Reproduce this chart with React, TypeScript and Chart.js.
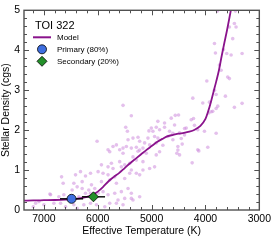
import React, { useEffect, useRef } from 'react';
import { Chart, registerables } from 'chart.js';

Chart.register(...registerables);

// ---------- data ----------
const xMin = 3000;
const xMax = 7370;
const yMin = 0;
const yMax = 5;
const xTickValues = [7000, 6000, 5000, 4000, 3000];
const yTickValues = [0, 1, 2, 3, 4, 5];
const xMinorStep = 200;
const yMinorStep = 0.2;

const xTitle = 'Effective Temperature (K)';
const yTitle = 'Stellar Density (cgs)';
const legendTitle = 'TOI 322';
const legendLabels = ['Model', 'Primary (80%)', 'Secondary (20%)'];

const modelTemp = [7370, 7200, 7000, 6800, 6600, 6400, 6200, 6100, 6000, 5900, 5800, 5700, 5600, 5500, 5400, 5300, 5200, 5100, 5000, 4900, 4800, 4700, 4600, 4500, 4400, 4300, 4200, 4100, 4000, 3950, 3900, 3850, 3800, 3750, 3700, 3650, 3600, 3550, 3500];
const modelRho = [0.235, 0.24, 0.245, 0.25, 0.26, 0.28, 0.33, 0.38, 0.46, 0.58, 0.72, 0.83, 0.93, 1.05, 1.17, 1.28, 1.39, 1.5, 1.6, 1.7, 1.78, 1.85, 1.88, 1.91, 1.93, 1.96, 2.01, 2.1, 2.28, 2.47, 2.7, 2.96, 3.22, 3.5, 3.85, 4.18, 4.5, 4.85, 5.2];

const sampleTemp = [
  6876, 6672, 6643, 6413, 6321, 6228, 6135, 6290, 6444, 6383, 6476, 6290, 6167, 6228, 6630, 6722, 6352, 6135, 6691, 6444, 6259, 6135, 7093, 7154, 7000, 6815, 6598, 6383, 7198, 6889,
  5778, 5531, 5222, 5346, 5099, 4914, 4852, 5932, 5809, 5717, 5747, 5593, 5562, 5500, 5407, 5284, 5161, 5994, 5902, 5809, 5685, 5932, 5778, 5654, 5500, 5407, 5284, 5377, 5161, 5037, 5222, 6117, 6056, 5994, 5902, 5809, 5685, 5562, 5438, 5377, 5500, 5624, 5778, 5654, 5531, 5346, 5222, 6024, 5870, 5377,
  5531, 5377, 5481, 5450, 6013, 5346, 5253, 5222, 5130, 5050, 5006, 4976, 4914, 4884, 4852, 4945, 5068, 5438, 5717, 5654, 5531, 5469, 5377, 5284, 5161, 5037, 5809, 5593, 5253,
  4235, 4050, 3926, 3865, 4760, 4636, 4561, 4500, 4265, 4204, 4358, 4574, 4760, 4667, 4481, 4143, 4019, 4389, 4698, 4884, 4914, 4605, 4791, 4512, 4143, 3957,
  4389, 3802, 4605, 4450, 4432, 4512, 4531, 4124, 4247, 4945, 4481,
  3833, 3815, 3667, 3605, 3524, 3320, 3494, 3556, 3463, 3432, 3741, 3710, 3587, 3556, 3975, 3833, 3802, 3630, 3895, 3802, 3772, 3463, 3320, 3939, 4222, 3778, 3444,
];
const sampleRho = [
  0.38, 0.83, 0.67, 0.88, 0.96, 0.85, 0.92, 0.71, 0.67, 0.58, 0.5, 0.54, 0.5, 0.42, 0.38, 0.33, 0.33, 0.42, 0.17, 0.13, 0.13, 0.17, 0.21, 0.17, 0.13, 0.17, 0.08, 0.04, 0.08, 0.4,
  1.46, 1.42, 1.5, 1.33, 1.42, 1.38, 1.46, 1.13, 1.08, 1.04, 1.17, 1.21, 1.08, 1.13, 1.17, 1.25, 1.21, 0.96, 0.92, 0.88, 0.83, 0.71, 0.75, 0.67, 0.79, 0.92, 0.92, 1.0, 1.0, 1.04, 0.88, 0.63, 0.54, 0.42, 0.46, 0.38, 0.42, 0.46, 0.54, 0.42, 0.29, 0.25, 0.17, 0.17, 0.13, 0.25, 0.33, 0.13, 0.08, 0.29,
  2.62, 2.36, 2.07, 1.97, 1.72, 1.8, 1.82, 1.72, 1.68, 1.98, 2.05, 1.97, 2.07, 2.22, 2.01, 1.84, 1.8, 1.76, 1.59, 1.63, 1.55, 1.59, 1.55, 1.57, 1.55, 1.63, 1.51, 1.51, 1.47,
  2.8, 2.68, 2.7, 2.47, 2.18, 2.3, 2.37, 2.38, 2.26, 2.12, 2.05, 2.13, 2.07, 1.97, 1.93, 2.01, 1.97, 1.88, 1.84, 1.8, 1.68, 1.76, 1.62, 1.59, 1.51, 1.57,
  2.04, 1.92, 1.92, 1.79, 1.65, 1.5, 1.42, 1.48, 1.18, 1.08, 1.38,
  4.17, 3.93, 4.02, 3.92, 3.88, 3.92, 4.29, 4.58, 4.67, 4.58, 3.63, 3.5, 3.33, 3.29, 3.23, 3.0, 2.89, 2.85, 2.46, 2.54, 2.6, 2.57, 2.67, 2.43, 2.29, 4.98, 4.98,
];

const primaryTemp = [6487];
const primaryRho = [0.28];
const primaryTempErr = [215];
const secondaryTemp = [6080];
const secondaryRho = [0.33];
const secondaryTempErr = [215];

// ---------- styles ----------
const FONT = '"Liberation Sans", Arial, Helvetica, sans-serif';
const frameColor = '#505050';
const modelColor = '#8a138c';
const sampleColor = 'rgba(205, 140, 220, 0.55)';
const primaryColor = '#3f6fe0';
const secondaryColor = '#23902a';

const isIn = (v: number, list: number[]) => list.some((m) => Math.abs(m - v) < 1e-6);

const stepValues = (scale: any, step: number) => {
  const out: number[] = [];
  const lo = Math.min(scale.min, scale.max);
  const hi = Math.max(scale.min, scale.max);
  for (let k = Math.ceil(lo / step - 1e-9); k * step <= hi + 1e-9; k++) out.push(k * step);
  return out;
};

const framePlugin = {
  id: 'frameTicks',
  afterDraw(chart: any) {
    const { ctx, chartArea: a, scales } = chart;
    const x = scales.x;
    const y = scales.y;
    ctx.save();
    ctx.strokeStyle = frameColor;
    ctx.lineWidth = 1;
    ctx.beginPath();
    stepValues(x, xMinorStep).forEach((v) => {
      const px = Math.round(x.getPixelForValue(v)) + 0.5;
      if (px < a.left + 1 || px > a.right - 1) return;
      const len = isIn(v, xTickValues) ? 5 : 3;
      ctx.moveTo(px, a.bottom);
      ctx.lineTo(px, a.bottom - len);
      ctx.moveTo(px, a.top);
      ctx.lineTo(px, a.top + len);
    });
    stepValues(y, yMinorStep).forEach((v) => {
      const py = Math.round(y.getPixelForValue(v)) + 0.5;
      if (py < a.top + 1 || py > a.bottom - 1) return;
      const len = isIn(v, yTickValues) ? 5 : 3;
      ctx.moveTo(a.left, py);
      ctx.lineTo(a.left + len, py);
      ctx.moveTo(a.right, py);
      ctx.lineTo(a.right - len, py);
    });
    ctx.stroke();
    ctx.lineWidth = 1.4;
    ctx.strokeRect(a.left, a.top, a.right - a.left, a.bottom - a.top);
    ctx.restore();

    // legend
    const lx = a.left + 11;
    const ly = a.top + 16;
    ctx.save();
    ctx.fillStyle = '#000';
    ctx.textBaseline = 'middle';
    ctx.textAlign = 'left';
    ctx.font = `11px ${FONT}`;
    ctx.fillText(legendTitle, lx, ly);
    ctx.font = `8px ${FONT}`;
    const rowY = [ly + 11, ly + 23, ly + 35];
    const textX = lx + 22;
    ctx.strokeStyle = modelColor;
    ctx.lineWidth = 2;
    ctx.beginPath();
    ctx.moveTo(lx - 2, rowY[0]);
    ctx.lineTo(lx + 16, rowY[0]);
    ctx.stroke();
    ctx.fillStyle = primaryColor;
    ctx.strokeStyle = '#000';
    ctx.lineWidth = 0.8;
    ctx.beginPath();
    ctx.arc(lx + 7, rowY[1], 4.5, 0, Math.PI * 2);
    ctx.fill();
    ctx.stroke();
    ctx.fillStyle = secondaryColor;
    ctx.beginPath();
    ctx.moveTo(lx + 7, rowY[2] - 5);
    ctx.lineTo(lx + 12, rowY[2]);
    ctx.lineTo(lx + 7, rowY[2] + 5);
    ctx.lineTo(lx + 2, rowY[2]);
    ctx.closePath();
    ctx.fill();
    ctx.stroke();
    ctx.fillStyle = '#000';
    legendLabels.forEach((label, i) => ctx.fillText(label, textX, rowY[i]));
    ctx.restore();
  },
};

const errorBarPlugin = {
  id: 'errorBars',
  afterDatasetDraw(chart: any, args: any) {
    if (args.index !== 1) return;
    const { ctx, scales } = chart;
    const x = scales.x;
    const y = scales.y;
    ctx.save();
    ctx.strokeStyle = '#000';
    ctx.lineWidth = 1.4;
    const draw = (ts: number[], rs: number[], es: number[]) => {
      ts.forEach((t, i) => {
        const py = y.getPixelForValue(rs[i]);
        ctx.beginPath();
        ctx.moveTo(x.getPixelForValue(t - es[i]), py);
        ctx.lineTo(x.getPixelForValue(t + es[i]), py);
        ctx.stroke();
      });
    };
    draw(primaryTemp, primaryRho, primaryTempErr);
    draw(secondaryTemp, secondaryRho, secondaryTempErr);
    ctx.restore();
  },
};

export default function App() {
  const ref = useRef<HTMLCanvasElement | null>(null);

  useEffect(() => {
    if (!ref.current) return;
    Chart.defaults.font.family = FONT;
    const chart = new Chart(ref.current, {
      type: 'scatter',
      data: {
        datasets: [
          {
            label: 'Samples',
            data: sampleTemp.map((t, i) => ({ x: t, y: sampleRho[i] })),
            backgroundColor: sampleColor,
            borderWidth: 0,
            pointRadius: 1.8,
            order: 3,
          },
          {
            label: 'Model',
            type: 'line',
            data: modelTemp.map((t, i) => ({ x: t, y: modelRho[i] })),
            borderColor: modelColor,
            borderWidth: 1.8,
            pointRadius: 0,
            cubicInterpolationMode: 'monotone',
            fill: false,
            order: 2,
          } as any,
          {
            label: 'Secondary',
            data: secondaryTemp.map((t, i) => ({ x: t, y: secondaryRho[i] })),
            backgroundColor: secondaryColor,
            borderColor: '#000',
            borderWidth: 0.8,
            pointStyle: 'rectRot',
            pointRadius: 5,
            order: 1,
          },
          {
            label: 'Primary',
            data: primaryTemp.map((t, i) => ({ x: t, y: primaryRho[i] })),
            backgroundColor: primaryColor,
            borderColor: '#000',
            borderWidth: 0.8,
            pointStyle: 'circle',
            pointRadius: 4.5,
            order: 0,
          },
        ],
      },
      options: {
        responsive: false,
        animation: false,
        devicePixelRatio: 1,
        layout: { padding: { top: 10, right: 14, left: 0, bottom: 0 } },
        plugins: { legend: { display: false }, tooltip: { enabled: false } },
        scales: {
          x: {
            type: 'linear',
            reverse: true,
            min: xMin,
            max: xMax,
            grid: { display: false, drawTicks: false },
            border: { display: false },
            afterBuildTicks: (s: any) => {
              s.ticks = xTickValues.map((v) => ({ value: v }));
            },
            ticks: {
              autoSkip: false,
              maxRotation: 0,
              padding: 3,
              color: '#000',
              font: { size: 10.5, family: FONT },
              callback: (v: any) => String(Math.round(Number(v))),
            },
            title: {
              display: true,
              text: xTitle,
              color: '#000',
              font: { size: 10.5, family: FONT },
              padding: { top: 0, bottom: 3 },
            },
            afterFit: (s: any) => {
              s.height = 30;
            },
          },
          y: {
            type: 'linear',
            min: yMin,
            max: yMax,
            grid: { display: false, drawTicks: false },
            border: { display: false },
            afterBuildTicks: (s: any) => {
              s.ticks = yTickValues.map((v) => ({ value: v }));
            },
            ticks: {
              autoSkip: false,
              padding: 4,
              color: '#000',
              font: { size: 10.5, family: FONT },
              callback: (v: any) => String(Math.round(Number(v))),
            },
            title: {
              display: true,
              text: yTitle,
              color: '#000',
              font: { size: 10.5, family: FONT },
              padding: { top: 0, bottom: 0 },
            },
            afterFit: (s: any) => {
              s.width = 24;
            },
          },
        },
      } as any,
      plugins: [errorBarPlugin, framePlugin],
    });
    return () => chart.destroy();
  }, []);

  return (
    <div style={{ position: 'absolute', left: 0, top: 0, width: 274, height: 240, background: '#fff' }}>
      <canvas ref={ref} width={274} height={240} />
    </div>
  );
}
